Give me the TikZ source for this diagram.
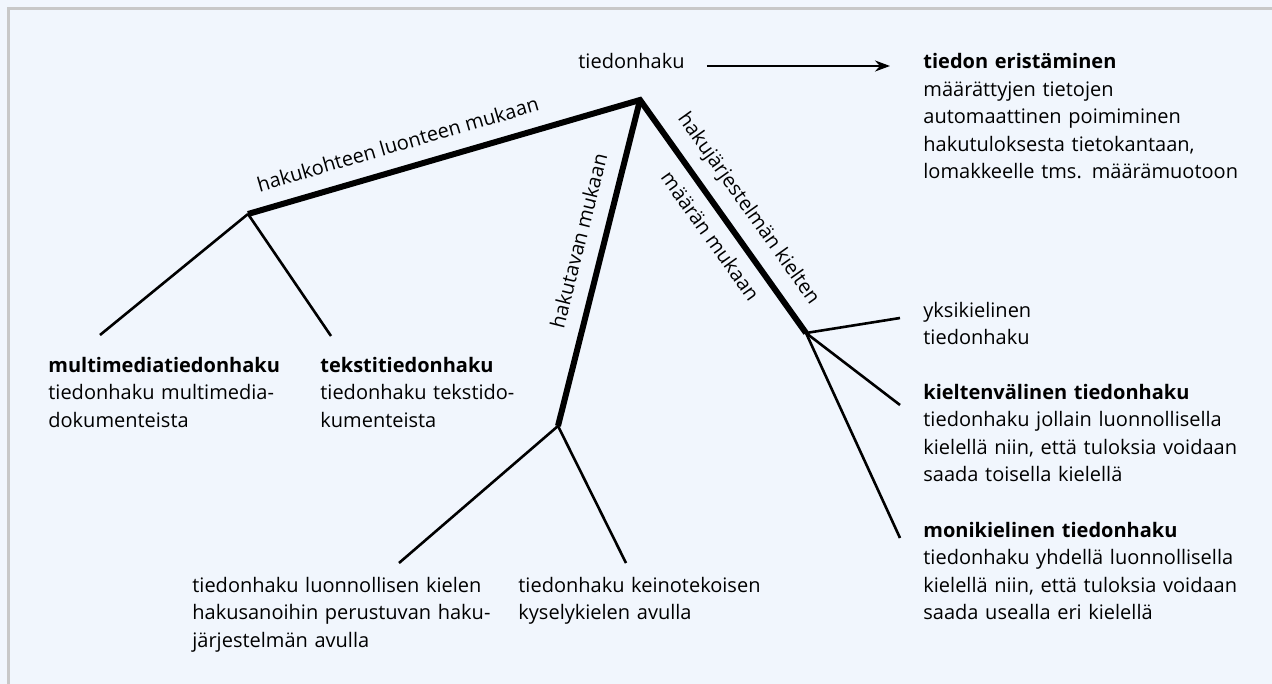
\documentclass[tikz,border=0pt]{standalone}
\usepackage{fontspec}
\setmainfont{Open Sans}
\usetikzlibrary{arrows.meta}
\definecolor{tausta}{HTML}{F1F6FD}
\definecolor{reuna}{HTML}{C8C8C8}
\tikzset{
	paksu/.style={line width=3pt, line join=miter},
	ohut/.style={line width=1.3pt},
	teksti/.style={font=\fontsize{10}{13.75}\selectfont},
	lehti/.style={teksti, anchor=base west, inner sep=0pt, align=left, text width=200pt},
	nimio/.style={teksti, sloped},
}

\begin{document}
\begin{tikzpicture}[x=0.5pt,y=-0.5pt]
			%%%%% START %%%%%
			\def\leveys{1272}
			\def\korkeus{684}
			\path[use as bounding box, fill=tausta] (0,0) rectangle (\leveys,\korkeus);
			\draw[reuna, line width=1.5pt] (8,\korkeus) -- (8,9) -- (\leveys,9);
			
			\coordinate (kanta) at (640,100);
			\coordinate (kohde) at (248,214);
			\coordinate (tapa) at (558,426);
			\coordinate (kieli) at (806,333);
			
			\coordinate (multipaa) at (100,335);
			\coordinate (tekstipaa) at (331,336);
			\coordinate (luonnpaa) at (399,563);
			\coordinate (keinopaa) at (626,563);
			\coordinate (yksipaa) at (900,318);
			\coordinate (valipaa) at (900,405);
			\coordinate (monipaa) at (900,538);
			
			\node[teksti, anchor=base west, inner sep=0pt] (haku) at (578,69) {tiedonhaku};
			\node[lehti] (eris) at (923,69) {\textbf{tiedon eristäminen}\\määrättyjen tietojen\\automaattinen poimiminen\\hakutuloksesta tietokantaan,\\lomakkeelle tms. määrämuotoon};
			\draw[line width=1pt, -{Stealth[length=7.5pt, width=5.5pt]}] ([xshift=11pt,yshift=1.5pt]haku.base east) -- ([xshift=-16.5pt,yshift=1.5pt]eris.base west);
			
			\draw[paksu] (kohde) -- node[nimio, above=4pt, pos=0.4] {hakukohteen luonteen mukaan} (kanta)
				-- node[nimio, above=2.5pt, pos=0.53] {hakujärjestelmän kielten} node[nimio, below=2pt, pos=0.53] {määrän mukaan} (kieli);
			\draw[paksu] (kanta) -- node[nimio, above=4pt, pos=0.45] {hakutavan mukaan} (tapa);
			
			\foreach \p in {multipaa,tekstipaa} \draw[ohut] (kohde) -- (\p);
			\foreach \p in {luonnpaa,keinopaa} \draw[ohut] (tapa) -- (\p);
			\foreach \p in {yksipaa,valipaa,monipaa} \draw[ohut] (kieli) -- (\p);
			
			\node[lehti] (multi) at (48,372) {\textbf{multimediatiedonhaku}\\tiedonhaku multimedia-\\dokumenteista};
			\node[lehti] (tekstihaku) at (320,372) {\textbf{tekstitiedonhaku}\\tiedonhaku tekstido-\\kumenteista};
			\node[lehti] (luonn) at (192,592) {tiedonhaku luonnollisen kielen\\hakusanoihin perustuvan haku-\\järjestelmän avulla};
			\node[lehti] (keino) at (518,592) {tiedonhaku keinotekoisen\\kyselykielen avulla};
			\node[lehti] (yksi) at (923,317) {yksikielinen\\tiedonhaku};
			\node[lehti] (vali) at (923,399) {\textbf{kieltenvälinen tiedonhaku}\\tiedonhaku jollain luonnollisella\\kielellä niin, että tuloksia voidaan\\saada toisella kielellä};
			\node[lehti] (moni) at (923,537) {\textbf{monikielinen tiedonhaku}\\tiedonhaku yhdellä luonnollisella\\kielellä niin, että tuloksia voidaan\\saada usealla eri kielellä};
			%%%%% END %%%%%
\end{tikzpicture}
\end{document}
